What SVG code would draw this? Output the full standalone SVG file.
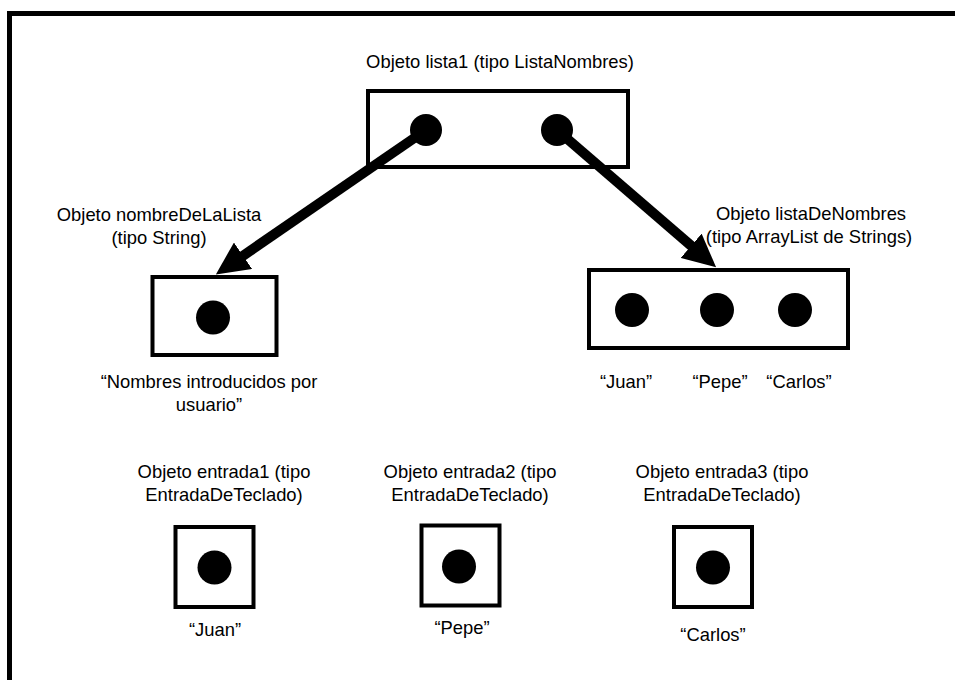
<svg xmlns="http://www.w3.org/2000/svg" width="955" height="680" viewBox="0 0 955 680">
<style>
  .box { fill: #ffffff; stroke: #000000; stroke-width: 4; }
  .dot { fill: #000000; }
  .lbl { font-family: "Liberation Sans", Arial, sans-serif; font-size: 18.4px; fill: #000000; text-anchor: middle; }
  .conn { stroke: #000000; stroke-width: 10; fill: none; marker-end: url(#head); }
</style>
<defs>
  <marker id="head" markerUnits="userSpaceOnUse" viewBox="0 0 33 32" markerWidth="33" markerHeight="32" refX="1" refY="16" orient="auto">
    <path d="M0,0 L33,16 L0,32 Z" fill="#000000"/>
  </marker>
</defs>
<rect x="0" y="0" width="955" height="680" fill="#ffffff"/>
<path d="M9.5,680 V13.5 H955" fill="none" stroke="#000000" stroke-width="5"/>

<g id="lista1">
  <text class="lbl" x="500" y="68">Objeto lista1 (tipo ListaNombres)</text>
  <rect class="box" x="368" y="91" width="260" height="76"/>
  <circle class="dot" cx="426" cy="130" r="16"/>
  <circle class="dot" cx="557" cy="130" r="16"/>
</g>

<g id="nombreDeLaLista">
  <text class="lbl" x="159" y="221">Objeto nombreDeLaLista</text>
  <text class="lbl" x="159" y="244">(tipo String)</text>
  <rect class="box" x="152.5" y="277" width="124" height="78"/>
  <circle class="dot" cx="213" cy="317.5" r="17"/>
  <text class="lbl" x="209" y="388">“Nombres introducidos por</text>
  <text class="lbl" x="209" y="411">usuario”</text>
</g>

<g id="listaDeNombres">
  <text class="lbl" x="811" y="220">Objeto listaDeNombres</text>
  <text class="lbl" x="809" y="243">(tipo ArrayList de Strings)</text>
  <rect class="box" x="589" y="270" width="259" height="78"/>
  <circle class="dot" cx="632" cy="310" r="17"/>
  <circle class="dot" cx="717" cy="310" r="17"/>
  <circle class="dot" cx="795" cy="310" r="17"/>
  <text class="lbl" x="626" y="388">“Juan”</text>
  <text class="lbl" x="720" y="388">“Pepe”</text>
  <text class="lbl" x="799" y="388">“Carlos”</text>
</g>

<g id="entrada1">
  <text class="lbl" x="224" y="478">Objeto entrada1 (tipo</text>
  <text class="lbl" x="224" y="501">EntradaDeTeclado)</text>
  <rect class="box" x="175.5" y="527" width="78" height="80"/>
  <circle class="dot" cx="214.5" cy="567.5" r="17"/>
  <text class="lbl" x="215" y="636">“Juan”</text>
</g>

<g id="entrada2">
  <text class="lbl" x="470" y="478">Objeto entrada2 (tipo</text>
  <text class="lbl" x="470" y="501">EntradaDeTeclado)</text>
  <rect class="box" x="421.5" y="525.5" width="78" height="80"/>
  <circle class="dot" cx="459" cy="566.5" r="17"/>
  <text class="lbl" x="462" y="634">“Pepe”</text>
</g>

<g id="entrada3">
  <text class="lbl" x="722" y="478">Objeto entrada3 (tipo</text>
  <text class="lbl" x="722" y="501">EntradaDeTeclado)</text>
  <rect class="box" x="674" y="527" width="78" height="80"/>
  <circle class="dot" cx="713" cy="567.5" r="17"/>
  <text class="lbl" x="713" y="641">“Carlos”</text>
</g>

<g id="connectors">
  <line class="conn" x1="426" y1="130" x2="242.2" y2="256.3"/>
  <line class="conn" x1="557" y1="130" x2="691.9" y2="246.4"/>
</g>
</svg>
